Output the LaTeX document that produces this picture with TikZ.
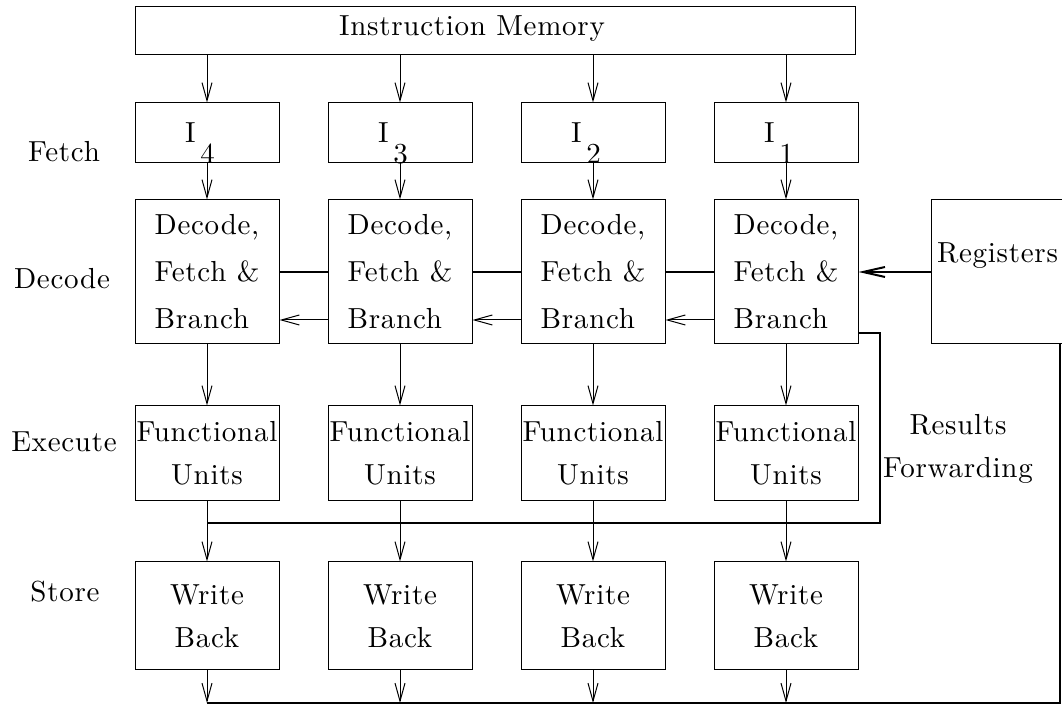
\documentclass[tikz,border=0pt]{standalone}
\usepackage{fontspec}
\setmainfont{lmroman10-regular.otf}[LetterSpace=2.5]
\usepackage{tikz}
\usetikzlibrary{arrows.meta,positioning}

\begin{document}
\begin{tikzpicture}[
    x=0.5pt, y=-0.5pt,
    node distance=18pt and 24pt,
    font=\fontsize{14.5}{21.5}\selectfont,
    box/.style={draw, line width=0.5pt, inner sep=0pt, align=center, minimum width=72pt},
    ibox/.style={box, minimum height=30pt, text depth=0pt},
    dbox/.style={box, minimum height=72pt, align=left, font=\fontsize{14.5}{23.5}\selectfont},
    fbox/.style={box, minimum height=47.5pt},
    wbox/.style={box, minimum height=54pt},
    arr/.style={-{Straight Barb[length=9pt, width=5pt]}, line width=0.5pt},
    bus/.style={line width=1pt}
]
\useasboundingbox (0,0) rectangle (1062,704);

% memory and fetched instructions
\node[draw, line width=0.5pt, minimum width=360pt, minimum height=24pt] (mem) at (495,31) {};
\node (memlbl) at (472,29) {Instruction Memory};
\node[ibox] (i4) at (207,133) {I\,\raisebox{-0.7em}{4}\hspace{7pt}};
\node[ibox, right=of i4] (i3) {I\,\raisebox{-0.7em}{3}\hspace{7pt}};
\node[ibox, right=of i3] (i2) {I\,\raisebox{-0.7em}{2}\hspace{7pt}};
\node[ibox, right=of i2] (i1) {I\,\raisebox{-0.7em}{1}\hspace{7pt}};

% decode
\node[dbox, below=of i4] (d4) {Decode,\\Fetch \&\\Branch};
\node[dbox, below=of i3] (d3) {Decode,\\Fetch \&\\Branch};
\node[dbox, below=of i2] (d2) {Decode,\\Fetch \&\\Branch};
\node[dbox, below=of i1] (d1) {Decode,\\Fetch \&\\Branch};
\node[box, minimum width=66.5pt, minimum height=72pt, right=36pt of d1] (regs) {};
\node (regslbl) at ([yshift=8pt]regs.center) {Registers};

% execute
\node[fbox, below=30.5pt of d4] (f4) {Functional\\Units};
\node[fbox, below=30.5pt of d3] (f3) {Functional\\Units};
\node[fbox, below=30.5pt of d2] (f2) {Functional\\Units};
\node[fbox, below=30.5pt of d1] (f1) {Functional\\Units};

% store
\node[wbox, below=30pt of f4] (w4) {Write\\Back};
\node[wbox, below=30pt of f3] (w3) {Write\\Back};
\node[wbox, below=30pt of f2] (w2) {Write\\Back};
\node[wbox, below=30pt of f1] (w1) {Write\\Back};

% stage names
\node (fetchlbl) at (64,152) {Fetch};
\node (decodelbl) at (62,279) {Decode};
\node (executelbl) at (64,442) {Execute};
\node (storelbl) at (65,592) {Store};
\node[align=center] (fwdlbl) at (958,449) {Results\\Forwarding};

\coordinate (fwd) at (880,523);
\coordinate (busr) at (1060,703);

\draw[arr] (mem.south -| i4) -- (i4);
\draw[arr] (mem.south -| i3) -- (i3);
\draw[arr] (mem.south -| i2) -- (i2);
\draw[arr] (mem.south -| i1) -- (i1);
\draw[arr] (i4) -- (d4);
\draw[arr] (i3) -- (d3);
\draw[arr] (i2) -- (d2);
\draw[arr] (i1) -- (d1);
\draw[arr] (d4) -- (f4);
\draw[arr] (d3) -- (f3);
\draw[arr] (d2) -- (f2);
\draw[arr] (d1) -- (f1);
\draw[arr] (f4) -- (w4);
\draw[arr] (f3) -- (w3);
\draw[arr] (f2) -- (w2);
\draw[arr] (f1) -- (w1);

\draw[bus] (d4.east) -- (d3.west);
\draw[bus] (d3.east) -- (d2.west);
\draw[bus] (d2.east) -- (d1.west);
\draw[arr] ([yshift=-24pt]d3.west) -- ([yshift=-24pt]d4.east);
\draw[arr] ([yshift=-24pt]d2.west) -- ([yshift=-24pt]d3.east);
\draw[arr] ([yshift=-24pt]d1.west) -- ([yshift=-24pt]d2.east);
\draw[bus, -{Straight Barb[length=11pt, width=5pt]}] (regs) -- (d1);

\draw[bus] ([yshift=-30.5pt]d1.east) -| (fwd) -- (fwd -| f4.south);

\draw[arr] (w4) -- (w4 |- busr);
\draw[arr] (w3) -- (w3 |- busr);
\draw[arr] (w2) -- (w2 |- busr);
\draw[arr] (w1) -- (w1 |- busr);
\draw[bus] (w4.south |- busr) -- (busr) -- (busr |- regs.south);
\end{tikzpicture}
\end{document}
